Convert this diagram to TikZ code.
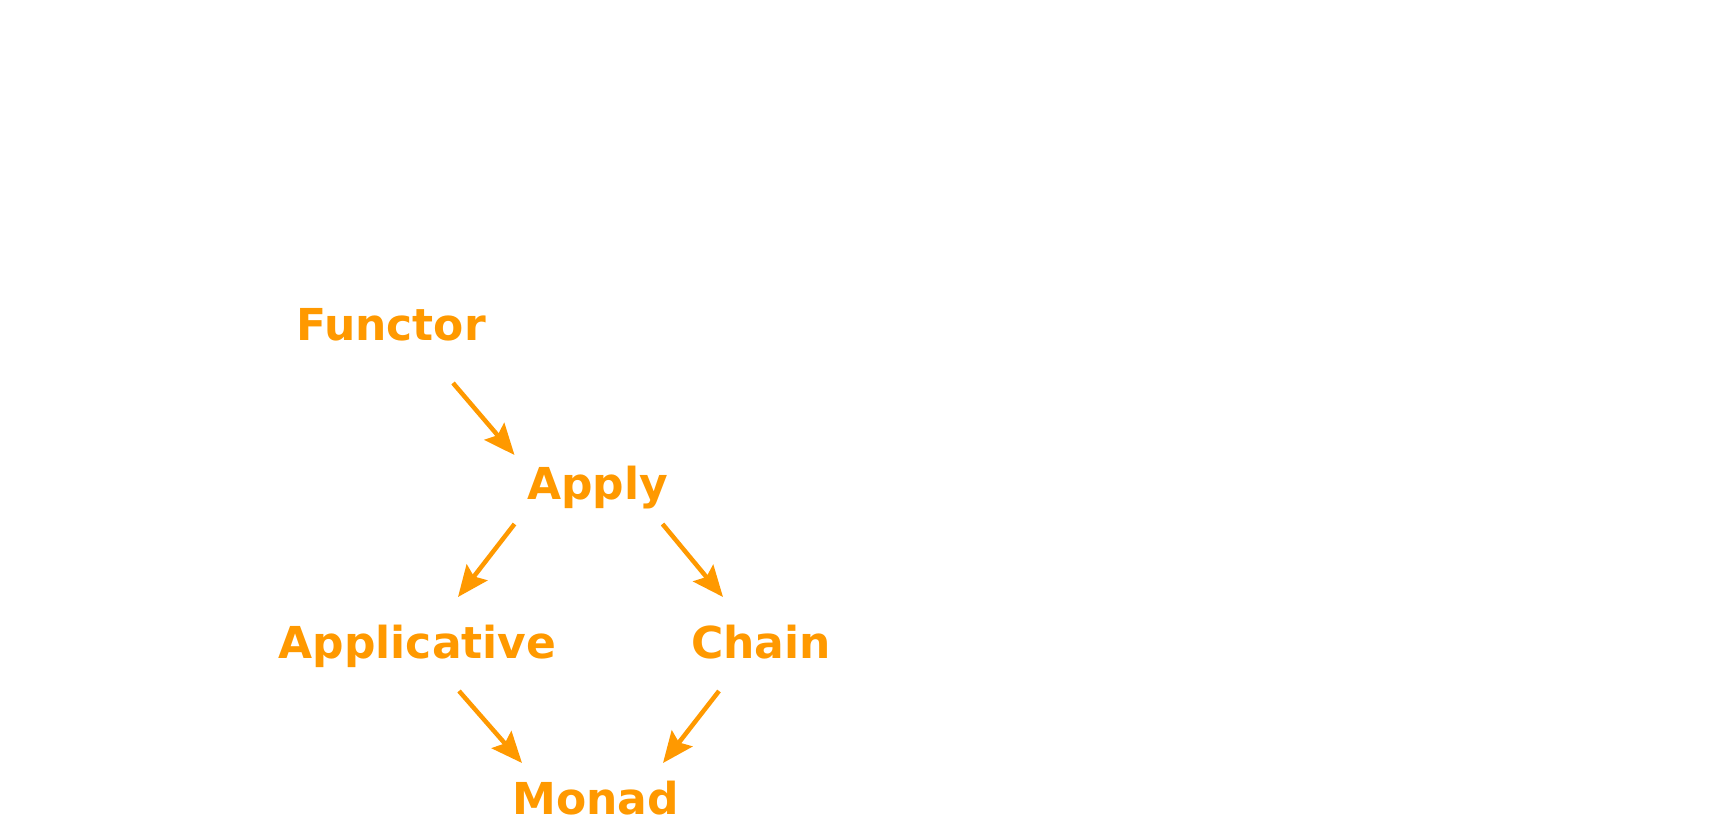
\documentclass[tikz,border=0pt]{standalone}
\usepackage{fontspec}
\setmainfont{DejaVu Sans}
\usetikzlibrary{calc,arrows.meta}
\definecolor{amber}{RGB}{255,153,0}
\tikzset{
  cls/.style={anchor=base, inner sep=0pt, text=amber, font=\fontsize{44}{50}\selectfont\bfseries},
  edge/.style={draw=amber, line width=4.5pt, -{Stealth[length=31pt,width=26pt,inset=5pt]}}
}
\begin{document}
\begin{tikzpicture}[x=1pt,y=-1pt]
\useasboundingbox (0,0) rectangle (1712,818);
\node[cls] (functor) at (391,340) {Functor};
\node[cls] (apply) at (597.5,499) {Apply};
\node[cls] (applicative) at (417.5,658) {Applicative};
\node[cls] (chain) at (761,658) {Chain};
\node[cls] (monad) at (595.5,814) {Monad};
\draw[edge] ($(functor.base)+(62,43)$) -- ($(apply.base)+(-83,-44)$);
\draw[edge] ($(apply.base)+(-83,25)$) -- ($(applicative.base)+(40.5,-61)$);
\draw[edge] ($(apply.base)+(65,25)$) -- ($(chain.base)+(-38,-61)$);
\draw[edge] ($(applicative.base)+(41.5,33)$) -- ($(monad.base)+(-73.5,-51)$);
\draw[edge] ($(chain.base)+(-42,33)$) -- ($(monad.base)+(67.5,-51)$);
\end{tikzpicture}
\end{document}
